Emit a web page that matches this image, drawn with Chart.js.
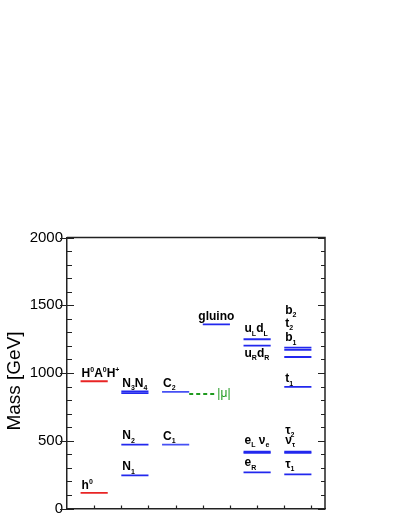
<!DOCTYPE html>
<html>
<head>
<meta charset="utf-8">
<script src="https://cdn.jsdelivr.net/npm/chart.js@4/dist/chart.umd.min.js"></script>
<style>
  body { margin:0; background:#fff; }
  canvas { display:block; }
</style>
</head>
<body>
<canvas id="chart" width="402" height="520"></canvas>
<script>
// mass levels (GeV), one per line in the spectrum
const levelNames  = ['h0','H0 A0 H+','N1','N2','N3','N4','C1','C2','gluino','uL dL','uR dR','b2','t2','b1','t1','eL','nu_e','eR','tau2','nu_tau','tau1'];
const levelMass   = [115, 939, 245, 471, 852, 864, 471, 860, 1359, 1249, 1202, 1187, 1170, 1118, 897, 420, 410, 267, 420, 410, 252];
const levelColumn = [0, 0, 1, 1, 1, 1, 2, 2, 3, 4, 4, 5, 5, 5, 5, 4, 4, 4, 5, 5, 5];
// left end of each column on the x scale, each level is 1 unit wide
const columnStart = [0.5, 2, 3.5, 5, 6.5, 8];
const columnColor = ['#e82424', '#2228ee', '#4650f4', '#2228ee', '#2228ee', '#2228ee'];

// |mu| marker
const muMass = 845;
const muFrom = 4.5;
const muTo = 5.5;

const yTicks = [0, 500, 1000, 1500, 2000];

// labels: markup (^ sup, _ sub), level they belong to, baseline offset in px
const labelText  = ['h^0','H^0A^0H^+','N_1','N_2','N_3N_4','C_1','C_2','gluino','u_Ld_L','u_Rd_R','b_2','t_2','b_1','t_1','e_L ν_e','e_R','τ_2','ν_τ','τ_1'];
const labelLevel = [0, 1, 2, 3, 4, 6, 7, 8, 9, 10, 11, 11, 11, 14, 15, 17, 18, 18, 20];
const labelDy    = [-4, -4, -5, -5.5, -6.5, -5, -5, -4.5, -7, 11.5, -34, -21, -6.5, -4.5, -7.5, -6, -17.5, -7.5, -6.5];

const FONT = '"Liberation Sans", Arial, sans-serif';

let datasets = [];
levelMass.forEach((m, i) => {
  const x0 = columnStart[levelColumn[i]];
  datasets.push({
    label: levelNames[i],
    data: [{x: x0, y: m}, {x: x0 + 1, y: m}],
    showLine: true,
    borderColor: columnColor[levelColumn[i]],
    borderWidth: 1.8,
    pointRadius: 0
  });
});
datasets.push({
  label: '|mu|',
  data: [{x: muFrom, y: muMass}, {x: muTo, y: muMass}],
  showLine: true,
  borderColor: '#1f9a1f',
  borderWidth: 2,
  borderDash: [4, 3],
  pointRadius: 0
});

function drawRich(ctx, str, x, y, size, color, align) {
  const big = 'bold ' + size + 'px ' + FONT;
  const small = 'bold ' + Math.round(size * 0.62) + 'px ' + FONT;
  // measure first
  let w = 0;
  for (let i = 0; i < str.length; i++) {
    if ((str[i] === '^' || str[i] === '_') && i + 1 < str.length) {
      ctx.font = small; w += ctx.measureText(str[i + 1]).width; i++;
    } else {
      ctx.font = big; w += ctx.measureText(str[i]).width;
    }
  }
  let cx = align === 'center' ? x - w / 2 : x;
  ctx.fillStyle = color;
  ctx.textBaseline = 'alphabetic';
  ctx.textAlign = 'left';
  for (let i = 0; i < str.length; i++) {
    const c = str[i];
    if ((c === '^' || c === '_') && i + 1 < str.length) {
      const s = str[i + 1];
      ctx.font = small;
      ctx.fillText(s, cx, y + (c === '^' ? -size * 0.42 : size * 0.28));
      cx += ctx.measureText(s).width;
      i++;
    } else {
      ctx.font = big;
      ctx.fillText(c, cx, y);
      cx += ctx.measureText(c).width;
    }
  }
}

const framePlugin = {
  id: 'frame',
  afterDatasetsDraw(chart) {
    const ctx = chart.ctx;
    const a = chart.chartArea;
    const ys = chart.scales.y;
    const xs = chart.scales.x;
    ctx.save();
    ctx.strokeStyle = '#222';
    ctx.lineWidth = 1.5;
    ctx.beginPath();
    ctx.moveTo(a.left, a.top); ctx.lineTo(a.right, a.top); ctx.lineTo(a.right, a.bottom);
    ctx.stroke();
    // y ticks, inward, both sides
    ctx.lineWidth = 1.2;
    ctx.beginPath();
    for (let v = 0; v <= 2000; v += 100) {
      const py = Math.round(ys.getPixelForValue(v)) + 0.5;
      const major = v % 500 === 0;
      ctx.moveTo(a.left - (major ? 7 : 0), py); ctx.lineTo(a.left + (major ? 7 : 5), py);
      ctx.moveTo(a.right, py); ctx.lineTo(a.right - (major ? 7 : 4), py);
    }
    for (let k = 1; k <= 9; k++) {
      const px = Math.round(xs.getPixelForValue(k)) + 0.5;
      ctx.moveTo(px, a.bottom); ctx.lineTo(px, a.bottom - 3);
    }
    ctx.stroke();

    labelText.forEach((t, i) => {
      const lv = labelLevel[i];
      const col = levelColumn[lv];
      const py = ys.getPixelForValue(levelMass[lv]) + labelDy[i];
      if (t === 'gluino') {
        drawRich(ctx, t, xs.getPixelForValue(columnStart[col] + 0.5), py, 12, '#000', 'center');
      } else {
        drawRich(ctx, t, xs.getPixelForValue(columnStart[col]) + 1, py, 12, '#000', 'left');
      }
    });

    ctx.font = '12px ' + FONT;
    ctx.fillStyle = '#1f9a1f';
    ctx.textBaseline = 'middle';
    ctx.fillText('|μ|', xs.getPixelForValue(muTo) + 1, ys.getPixelForValue(muMass));

    // axis title
    ctx.translate(15, 381);
    ctx.rotate(-Math.PI / 2);
    ctx.font = '19px ' + FONT;
    ctx.fillStyle = '#000';
    ctx.textAlign = 'center';
    ctx.textBaseline = 'middle';
    ctx.fillText('Mass [GeV]', 0, 0);
    ctx.restore();
  }
};

const chart = new Chart(document.getElementById('chart').getContext('2d'), {
  type: 'scatter',
  data: { datasets: datasets },
  options: {
    responsive: false,
    animation: false,
    devicePixelRatio: 1,
    layout: { padding: { top: 237.5, right: 77, left: 0, bottom: 0 } },
    plugins: { legend: { display: false }, tooltip: { enabled: false } },
    scales: {
      x: {
        type: 'linear', min: 0, max: 9.5,
        grid: { display: false, drawTicks: false },
        border: { display: true, color: '#222', width: 1.5 },
        ticks: { display: false },
        afterFit(s) { s.height = 11.5; s.paddingLeft = 0; s.paddingRight = 0; }
      },
      y: {
        type: 'linear', min: 0, max: 2000,
        afterBuildTicks(s) { s.ticks = yTicks.map(v => ({value: v})); },
        grid: { display: false, drawTicks: false },
        border: { display: true, color: '#222', width: 1.5 },
        ticks: { padding: 4, color: '#000', font: { family: FONT, size: 15 }, callback: v => String(v) },
        afterFit(s) { s.width = 67; s.paddingTop = 0; s.paddingBottom = 0; }
      }
    }
  },
  plugins: [framePlugin]
});
</script>
</body>
</html>
